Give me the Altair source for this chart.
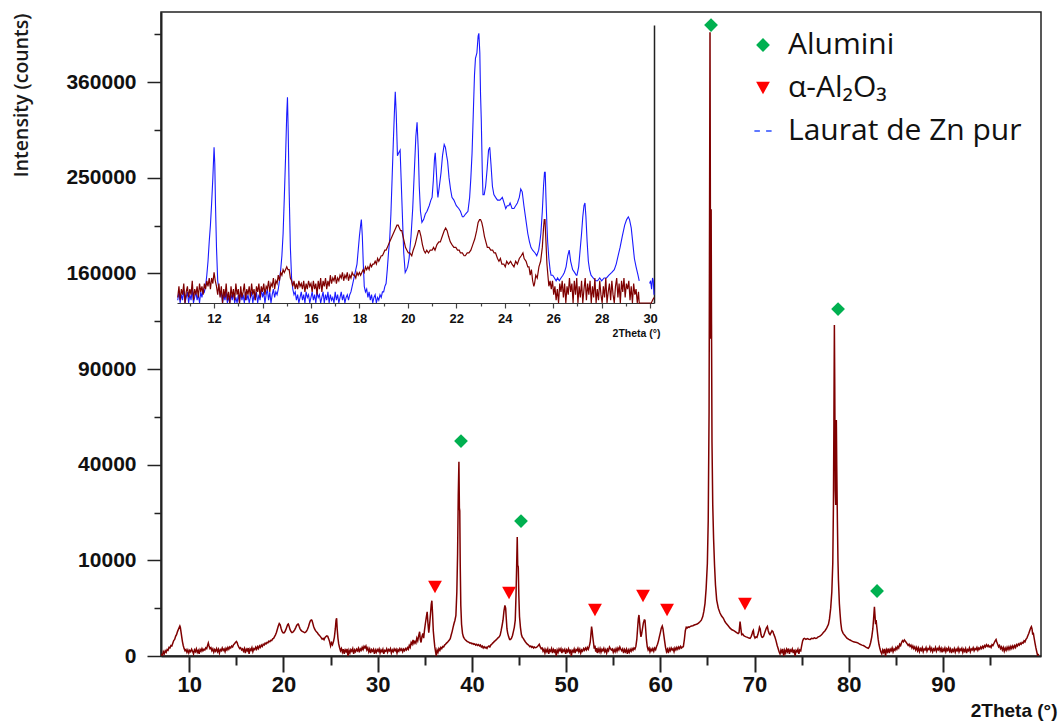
import altair as alt
import pandas as pd

# ---------------- main pattern (2Theta in degrees, intensity in counts) ----------------
main_2theta = [
7.05,7.15,7.25,7.35,7.45,7.55,7.65,7.75,7.85,7.95,8.05,8.15,8.25,8.35,8.45,8.55,8.65,8.75,8.85,8.95,9.0,9.05,9.12,9.2,9.28,9.36,9.45,9.55,9.65,9.75,
9.85,9.95,10.05,10.15,10.25,10.35,10.45,10.55,10.65,10.75,10.85,10.95,11.05,11.15,11.25,11.35,11.45,11.55,11.65,11.75,11.85,11.95,12.02,12.1,12.2,12.3,12.4,12.5,12.6,12.7,12.8,12.9,13.0,13.1,13.2,13.3,13.4,13.5,13.6,13.7,13.8,13.9,14.0,14.1,14.2,14.3,14.4,14.5,14.6,14.7,14.8,14.9,15.0,15.08,15.16,15.25,15.35,15.45,15.55,
15.65,15.75,15.85,15.95,16.05,16.15,16.25,16.35,16.45,16.55,16.65,16.75,16.85,16.95,17.05,17.15,17.25,17.35,17.45,17.55,
17.65,17.75,17.85,17.95,18.05,18.15,18.25,18.35,18.45,18.55,18.65,18.75,18.85,18.95,19.05,19.15,19.25,19.35,19.45,19.55,19.65,19.75,19.85,19.95,20.05,20.15,20.25,20.35,20.45,20.52,20.6,20.7,20.8,20.9,21.0,21.1,21.2,21.3,21.4,21.5,21.58,21.66,21.75,21.85,21.95,22.05,22.15,22.25,22.35,22.45,22.55,22.65,22.75,22.85,22.95,23.02,23.1,23.2,23.3,23.4,23.5,23.6,23.7,23.8,23.9,24.0,24.1,24.2,24.3,24.4,24.5,24.6,24.7,24.8,24.9,25.0,25.1,25.2,25.3,25.4,25.5,25.58,25.64,25.7,25.78,25.86,25.95,26.05,26.15,
26.25,26.35,26.45,26.55,26.65,26.75,26.85,26.95,27.05,27.15,27.25,27.35,27.45,27.55,27.65,27.75,27.85,27.95,28.05,28.15,28.25,28.35,28.45,28.55,28.65,28.75,28.85,28.95,29.05,29.15,29.25,29.35,29.45,29.55,29.65,29.75,29.85,29.95,30.05,30.15,30.25,30.35,30.45,30.55,30.65,30.75,30.85,30.95,31.05,31.15,31.25,31.35,31.45,31.55,31.65,31.75,31.85,31.95,32.05,32.15,32.25,32.35,32.45,32.55,32.65,32.75,32.85,32.95,33.05,33.15,33.25,
33.35,33.45,33.55,33.65,33.75,33.85,33.95,34.05,34.15,34.25,34.35,34.45,34.52,34.6,34.7,34.8,34.88,34.96,35.05,35.15,35.25,35.33,35.42,35.5,35.6,35.68,35.75,35.82,35.9,35.98,36.06,36.14,36.22,36.3,
36.4,36.5,36.6,36.7,36.8,36.9,37.0,37.1,37.2,37.3,37.4,37.5,37.6,37.7,37.8,37.9,38.0,38.1,38.2,38.3,38.4,38.48,38.55,38.62,38.67,38.71,38.76,38.82,38.9,39.0,39.1,39.2,39.3,39.4,39.5,39.6,39.7,
39.8,39.9,40.0,40.1,40.2,40.3,40.4,40.5,40.6,40.7,40.8,40.9,41.0,41.1,41.2,41.3,41.4,41.5,41.6,41.7,41.8,41.9,42.0,42.1,42.2,42.3,42.4,42.5,42.6,42.7,42.8,42.9,43.0,43.1,43.2,43.3,43.4,43.5,43.58,43.65,43.72,43.8,43.9,44.0,44.1,44.2,44.3,44.4,44.5,44.6,44.68,44.75,44.81,44.86,44.92,44.98,45.05,45.15,45.25,45.35,45.45,45.55,45.65,45.75,45.85,45.95,46.05,46.15,46.25,46.35,46.45,46.55,46.65,46.75,46.85,46.95,47.05,47.15,47.25,47.35,47.45,47.55,
47.65,47.75,47.85,47.95,48.05,48.15,48.25,48.35,48.45,48.55,48.65,48.75,48.85,48.95,49.05,49.15,49.25,49.35,49.45,49.55,49.65,49.75,49.85,49.95,50.05,50.15,50.25,50.35,50.45,50.55,50.65,50.75,50.85,50.95,51.05,51.15,51.25,51.35,51.45,51.55,51.65,51.75,51.85,51.95,52.05,52.15,52.25,52.35,
52.45,52.55,52.62,52.7,52.76,52.82,52.9,52.98,53.06,53.14,53.22,53.3,
53.4,53.5,53.6,53.7,53.8,53.9,54.0,54.1,54.2,54.3,54.4,54.5,54.6,54.7,54.8,54.9,55.0,55.1,55.2,55.3,55.4,55.5,55.6,55.7,55.8,55.9,56.0,56.1,56.2,56.3,56.4,56.5,56.6,56.7,56.8,56.9,57.0,57.1,57.2,57.3,
57.4,57.5,57.58,57.66,57.73,57.8,57.88,57.94,58.0,58.1,58.2,58.3,58.37,58.44,58.52,58.61,58.7,58.8,58.9,59.0,59.1,59.2,59.3,59.4,59.5,59.6,59.7,59.8,59.9,60.0,60.1,60.2,60.28,60.36,60.45,60.55,60.65,60.75,60.85,60.95,61.05,61.15,61.25,61.35,61.45,61.55,61.65,61.75,61.85,61.95,62.05,62.15,62.25,62.35,62.44,
62.55,62.65,62.75,62.85,62.95,63.05,63.15,63.3,63.45,63.6,63.75,63.9,64.05,64.2,64.35,64.5,64.62,64.74,64.86,64.99,65.08,65.17,65.22,65.27,65.3,65.33,65.36,65.39,65.43,65.48,65.56,65.65,65.75,65.85,65.98,66.15,66.33,66.5,66.69,66.85,67.0,67.2,67.4,67.6,67.8,67.95,68.1,68.25,68.35,68.46,68.55,68.63,68.75,68.85,68.99,69.1,69.25,69.4,69.52,69.62,69.72,69.8,69.87,69.95,70.05,70.15,70.25,70.35,70.45,70.52,70.6,70.68,70.76,70.85,70.95,71.05,71.15,71.25,71.36,71.45,71.55,71.64,71.75,71.85,71.95,72.05,72.15,72.28,72.4,72.5,72.6,
72.7,72.8,72.9,73.0,73.1,73.2,73.3,73.4,73.5,73.6,73.7,73.8,73.9,74.0,74.1,74.2,74.3,74.4,74.5,74.6,74.7,74.8,74.9,
75.0,75.1,75.2,75.3,75.45,75.6,75.75,75.9,76.05,76.2,76.35,76.5,76.6,76.75,76.9,77.0,77.13,77.3,77.48,77.65,77.84,77.95,78.08,78.2,78.3,78.37,78.42,78.47,78.51,78.56,78.61,78.65,78.68,78.72,78.79,78.85,78.9,79.0,79.07,79.15,79.25,79.4,79.6,79.8,80.0,80.13,80.3,80.5,80.7,80.84,81.0,81.2,81.4,81.55,81.7,81.85,82.0,82.08,82.2,82.32,82.44,82.55,82.63,82.72,82.78,82.84,82.9,82.96,83.04,83.12,83.2,83.3,83.4,
83.5,83.6,83.7,83.8,83.9,84.0,84.1,84.2,84.3,84.4,84.5,84.6,84.7,84.8,84.9,85.0,85.1,85.2,85.3,85.4,85.5,85.6,85.7,85.8,85.9,86.0,86.1,86.2,86.3,86.4,86.5,86.6,86.7,86.8,86.9,87.0,87.1,87.2,87.3,87.4,87.5,87.6,87.7,87.8,87.9,88.0,88.1,88.2,88.3,88.4,88.5,88.6,88.7,88.8,88.9,89.0,89.1,89.2,89.3,89.4,89.5,89.6,89.7,89.8,89.9,90.0,90.1,90.2,90.3,90.4,90.5,90.6,90.7,90.8,90.9,91.0,91.1,91.2,91.3,91.4,91.5,91.6,91.7,91.8,91.9,92.0,92.1,92.2,92.3,92.4,92.5,92.6,92.7,92.8,92.9,93.0,93.1,93.2,93.3,93.4,93.5,93.6,93.7,93.8,93.9,94.0,94.1,94.2,94.3,94.4,94.5,94.6,94.7,94.8,94.9,95.0,95.1,95.2,95.3,95.45,95.55,95.63,95.7,95.8,95.9,96.0,96.1,96.2,96.3,96.4,96.5,96.6,96.7,96.8,96.9,97.0,97.1,97.2,97.3,97.4,97.5,97.6,97.7,97.8,97.9,98.0,98.1,98.2,98.3,98.4,98.5,98.6,98.7,98.8,98.9,99.0,99.1,99.2,99.3,99.38,99.45,99.52,99.58,99.65,99.75,99.85,99.95,100.05,100.15,
]
main_counts = [
5,0,20,6,30,15,45,35,80,70,120,110,180,260,300,420,500,650,780,920,985,900,650,400,220,120,60,30,45,15,
40,10,35,20,50,25,5,40,20,55,15,35,5,45,25,60,30,50,40,75,60,130,185,110,60,75,30,55,15,45,25,60,20,50,10,45,30,70,35,55,20,65,40,80,50,90,70,110,90,140,165,200,230,195,130,90,60,75,40,
55,25,60,10,50,30,70,5,55,35,75,20,60,45,85,50,95,60,110,80,
130,100,150,130,180,160,200,190,240,220,270,260,320,340,410,490,600,780,980,1150,1060,830,660,590,580,640,760,920,1080,1120,960,760,650,600,620,680,760,880,1020,1100,1110,960,820,730,680,650,620,600,620,680,780,930,1150,1350,1420,1400,1200,950,800,700,640,590,520,470,420,370,310,340,290,370,410,440,420,320,220,110,190,140,220,380,800,1400,1550,800,350,160,80,30,60,
15,50,5,40,20,55,0,35,10,45,25,60,5,40,20,50,30,65,15,55,35,80,45,100,70,110,40,70,20,55,10,45,25,50,5,40,15,45,25,55,10,40,20,50,5,35,25,55,15,45,30,60,10,40,20,55,30,50,10,45,25,60,35,55,20,50,30,60,40,75,50,
120,80,200,150,280,170,230,180,350,250,450,640,300,200,420,560,350,700,1100,1600,2140,1200,600,1000,1900,2900,3340,2000,700,300,90,20,0,40,
15,60,35,80,60,100,90,130,150,180,200,240,280,330,480,650,900,1150,1400,1800,4500,11500,28000,41200,24000,23000,9000,2800,1100,560,400,330,290,260,230,220,200,
180,190,160,175,150,160,130,150,120,140,110,130,90,110,70,95,70,85,64,95,110,90,130,150,180,200,240,260,300,330,370,400,480,700,1000,1400,2200,2800,2500,1500,800,560,400,300,300,350,450,650,900,1400,4000,9000,15500,9000,8700,4000,1700,900,500,380,340,280,230,190,160,140,120,95,110,80,95,70,90,75,80,100,120,150,90,60,70,25,
50,10,45,20,55,5,40,25,60,10,45,20,50,0,40,15,55,30,60,10,45,25,50,5,40,20,55,15,45,0,35,20,55,10,45,30,65,20,50,10,40,25,60,35,70,40,80,50,
100,200,450,940,700,420,200,60,120,20,70,10,
55,20,60,15,50,30,65,20,45,10,50,30,90,60,40,55,15,45,20,60,25,70,40,90,50,30,55,10,45,20,50,5,40,15,50,25,60,35,70,50,
100,300,800,1500,1840,1200,600,400,500,800,1200,1416,1400,800,300,94,40,70,20,55,30,60,25,70,45,100,150,250,407,600,850,983,800,500,250,80,20,50,10,60,30,70,40,60,20,70,40,80,50,90,60,100,70,90,94,
300,700,900,860,920,900,940,980,1000,1050,1080,1120,1180,1285,1400,1700,2200,3030,5000,9390,20000,64500,200000,425000,250000,110000,160000,218000,120000,50000,25000,15000,9000,5500,3420,2500,2020,1750,1553,1300,1150,1000,850,750,700,650,600,550,600,1300,800,500,520,450,420,400,380,350,340,400,500,650,720,450,350,400,380,500,700,900,800,500,400,380,420,550,700,850,950,700,550,500,600,700,650,500,400,250,120,60,20,
5,40,15,55,0,35,10,50,20,60,5,40,25,55,10,45,0,35,20,50,5,40,30,
120,250,320,340,300,330,310,300,340,330,360,340,350,400,420,450,500,600,700,850,1100,1500,2500,4500,9390,25000,60000,119700,80000,30000,24900,45000,60800,40000,20000,10000,6310,3000,2000,1200,738,560,450,350,300,280,250,220,210,200,180,150,130,120,100,80,70,64,100,200,400,800,1500,2650,1800,1100,1416,1000,600,300,150,60,20,
5,40,15,55,0,45,20,60,10,50,30,70,20,55,35,80,50,100,70,150,120,200,260,220,280,240,200,160,120,150,100,130,70,110,60,90,40,80,30,70,20,60,35,75,20,55,40,80,25,60,45,90,30,65,20,55,35,80,25,60,40,85,30,65,15,55,30,70,20,60,35,75,25,55,10,45,25,60,15,50,30,70,20,55,35,65,15,50,25,60,10,45,30,70,20,55,40,75,30,60,45,80,35,70,50,90,60,100,70,120,90,140,100,130,90,110,80,140,120,200,260,300,220,150,90,120,60,90,40,80,25,70,35,85,45,90,50,100,60,110,70,120,80,140,110,160,130,180,150,200,180,250,220,300,350,450,550,700,850,940,800,500,600,400,200,80,20,0,5,
]

# ---------------- inset (arbitrary intensity units) ----------------
blue_2theta = [
10.5,10.55,10.6,10.65,10.7,10.75,10.8,10.85,10.9,10.95,11.0,11.05,11.1,11.15,11.2,11.25,11.3,11.35,11.4,11.45,11.5,11.55,11.6,11.65,11.7,11.75,11.8,11.85,11.9,11.95,12.0,12.03,12.06,12.1,12.15,12.2,12.25,12.3,12.35,12.4,12.45,12.5,12.55,12.6,12.65,12.7,12.75,12.8,12.85,12.9,12.95,13.0,13.05,13.1,13.15,13.2,13.25,13.3,13.35,13.4,13.45,13.5,13.55,13.6,13.65,13.7,13.75,13.8,13.85,13.9,13.95,14.0,14.05,14.1,14.15,14.2,14.25,14.3,14.35,14.4,14.45,14.5,14.55,14.6,14.65,14.7,14.75,14.8,14.85,14.9,14.95,15.0,15.03,15.06,15.1,15.15,15.2,15.25,15.3,15.35,15.4,15.45,15.5,15.55,15.6,15.65,15.7,15.75,15.8,15.85,15.9,15.95,16.0,16.05,16.1,16.15,16.2,16.25,16.3,16.35,16.4,16.45,16.5,16.55,16.6,16.65,16.7,16.75,16.8,16.85,16.9,16.95,17.0,17.05,17.1,17.15,17.2,17.25,17.3,17.35,17.4,17.45,17.5,17.55,17.6,17.65,17.7,17.75,17.8,17.85,17.9,17.95,18.0,18.05,18.08,18.12,18.16,18.2,18.25,18.3,18.35,18.4,18.45,18.5,18.55,18.6,18.65,18.7,18.75,18.8,18.85,18.9,18.95,19.0,19.05,19.1,19.15,19.2,19.25,19.3,19.35,19.4,19.45,19.48,19.52,19.57,19.62,19.68,19.72,19.78,19.83,19.89,19.95,19.99,20.05,20.13,20.2,20.27,20.33,20.38,20.43,20.47,20.52,20.58,20.65,20.72,20.79,20.88,20.95,21.0,21.05,21.1,21.13,21.17,21.22,21.24,21.3,21.37,21.43,21.5,21.55,21.6,21.64,21.7,21.76,21.82,21.9,22.0,22.1,22.17,22.25,22.3,22.38,22.48,22.55,22.6,22.65,22.7,22.75,22.79,22.85,22.9,22.93,22.97,23.0,23.03,23.07,23.1,23.15,23.21,23.27,23.33,23.38,23.43,23.49,23.55,23.62,23.7,23.8,23.9,23.97,24.04,24.1,24.17,24.22,24.3,24.38,24.45,24.52,24.6,24.66,24.72,24.79,24.87,24.95,25.02,25.08,25.15,25.25,25.32,25.4,25.45,25.49,25.55,25.6,25.64,25.67,25.7,25.74,25.77,25.82,25.87,25.91,25.98,26.05,26.12,26.18,26.25,26.32,26.4,26.46,26.53,26.6,26.66,26.72,26.8,26.88,26.95,26.98,27.05,27.1,27.17,27.22,27.27,27.31,27.35,27.4,27.45,27.5,27.56,27.65,27.75,27.83,27.92,28.0,28.1,28.2,28.3,28.42,28.52,28.6,28.68,28.76,28.85,28.95,29.03,29.1,29.15,29.22,29.28,29.35,29.42,29.5,29.55,
29.98,30.02,30.06,30.1,30.13,30.16,
]
blue_int = [
1,4,0,3,1,5,0,2,4,0,3,1,5,0,2,4,1,3,0,4,2,5,4,6,10,15,22,28,36,45,56,50,35,20,8,5,3,4,0,3,1,4,0,2,0,3,1,4,0,2,0,3,0,4,1,3,0,4,1,3,0,2,4,0,3,1,4,0,3,1,5,2,4,0,3,5,1,4,0,3,5,2,4,3,5,8,12,17,25,38,52,68,74,62,40,20,9,5,3,4,1,3,0,2,4,1,3,0,4,2,3,0,2,4,1,3,0,4,2,3,0,2,4,0,3,1,4,0,3,1,2,0,4,1,3,0,2,4,1,3,0,2,3,1,3,4,6,8,10,12,14,19,24,28,30,24,14,6,4,5,2,4,1,3,0,2,3,0,2,1,3,2,4,4,6,7,12,18,23,32,45,58,70,76,68,53,54,55,45,30,18,11,12,13,16,24,34,48,60,65,55,42,33,29,30,32,33,35,37,38,44,52,54,48,40,38,42,47,53,57,56,53,51,45,41,38,37,35,34,33,31,31,32,33,38,45,54,68,82,88,90,96,97,90,75,66,48,39,39,42,48,55,56,50,42,39,38,37,37,38,36,34,35,35,36,34,34,35,36,38,41,40,35,30,25,22,20,19,18,17,19,22,25,33,42,47,47,38,28,22,16,12,10,10,9,8,9,8,9,10,11,13,17,19,15,12,11,10,10,13,18,25,31,35,36,31,22,15,12,10,9,8,8,9,8,9,9,10,11,12,14,17,20,24,28,30,31,30,27,22,16,13,10,8,
7,8,5,9,8,3,
]

red_2theta = [
10.5,10.55,10.6,10.65,10.7,10.75,10.8,10.85,10.9,10.95,11.0,11.05,11.1,11.15,11.2,11.25,11.3,11.35,11.4,11.45,11.5,11.55,11.6,11.65,11.7,11.75,11.8,11.85,11.9,11.95,12.0,12.05,12.1,12.15,12.2,12.25,12.3,12.35,12.4,12.45,12.5,12.55,12.6,12.65,12.7,12.75,12.8,12.85,12.9,12.95,13.0,13.05,13.1,13.15,13.2,13.25,13.3,13.35,13.4,13.45,13.5,13.55,13.6,13.65,13.7,13.75,13.8,13.85,13.9,13.95,14.0,14.05,14.1,14.15,14.2,14.25,14.3,14.35,14.4,14.45,14.5,14.55,14.6,14.65,14.7,14.75,14.8,14.85,14.9,14.95,15.0,15.05,15.1,15.15,15.2,15.25,15.3,15.35,15.4,15.45,15.5,15.55,15.6,15.65,15.7,15.75,15.8,15.85,15.9,15.95,16.0,16.05,16.1,16.15,16.2,16.25,16.3,16.35,16.4,16.45,16.5,16.55,16.6,16.65,16.7,16.75,16.8,16.85,16.9,16.95,17.0,17.05,17.1,17.15,17.2,17.25,17.3,17.35,17.4,17.45,17.5,17.55,17.6,17.65,17.7,17.75,17.8,17.85,17.9,17.95,18.0,18.05,18.1,18.15,18.2,18.25,18.3,18.35,18.4,18.45,18.5,18.55,18.6,18.65,18.7,18.75,18.8,18.85,18.9,18.95,19.0,19.05,19.1,19.15,19.2,19.25,19.3,19.35,19.4,19.45,19.5,19.55,19.6,19.65,19.7,19.75,19.8,19.85,19.9,19.96,20.02,20.08,20.16,20.22,20.3,20.38,20.44,20.48,20.54,20.6,20.66,20.72,20.78,20.85,20.92,21.0,21.06,21.12,21.2,21.28,21.34,21.42,21.5,21.56,21.62,21.68,21.75,21.82,21.9,21.98,22.05,22.12,22.17,22.25,22.32,22.37,22.45,22.52,22.6,22.68,22.76,22.84,22.9,22.96,23.0,23.05,23.1,23.16,23.22,23.28,23.35,23.42,23.5,23.56,23.62,23.7,23.76,23.82,23.88,23.96,24.02,24.08,24.15,24.24,24.3,24.38,24.45,24.52,24.6,24.68,24.75,24.8,24.88,24.95,25.0,25.05,25.1,25.15,25.2,25.23,25.28,25.34,25.41,25.48,25.55,25.6,25.63,25.66,25.7,25.74,25.78,25.82,25.87,25.92,25.97,26.02,26.07,26.12,26.17,26.22,26.27,26.32,26.37,26.42,26.47,26.52,26.57,26.62,26.67,26.72,26.77,26.82,26.87,26.92,26.97,27.02,27.07,27.12,27.17,27.22,27.27,27.32,27.37,27.42,27.47,27.52,27.57,27.62,27.67,27.72,27.77,27.82,27.87,27.92,27.97,28.02,28.07,28.12,28.17,28.22,28.27,28.32,28.37,28.42,28.47,28.52,28.57,28.62,28.67,28.72,28.77,28.82,28.87,28.92,28.97,29.02,29.07,29.12,29.17,29.22,29.27,29.32,29.37,29.42,29.47,29.52,29.55,29.8,30.05,30.1,30.16,
]
red_int = [
2,6,1,5,3,7,0,4,6,2,5,3,8,1,5,3,6,2,7,4,6,3,7,5,8,6,9,5,9,7,11,8,6,3,7,2,6,0,5,2,7,1,4,0,6,2,5,1,7,3,5,0,6,2,4,7,1,5,3,6,2,7,3,5,1,6,4,7,2,6,4,7,3,6,5,8,4,7,6,9,5,8,7,10,8,11,10,12,11,12,13,12,12,9,8,6,8,5,7,5,8,6,7,5,8,4,7,5,8,6,7,4,8,5,7,3,8,5,9,4,8,6,9,5,8,6,10,7,9,8,10,7,9,8,10,9,11,8,10,9,11,8,10,9,11,10,10,9,11,10,11,10,11,12,11,13,12,13,12,14,13,14,14,15,14,16,15,16,17,17,18,19,19,20,21,22,23,24,25,26,27,28,28,27,26,26,24,22,20,19,18,18,17,19,21,24,26,26,24,21,19,18,19,18,19,19,20,19,21,22,22,24,26,27,26,24,22,21,20,20,19,19,18,18,17,17,18,18,19,21,23,26,29,30,30,29,27,24,22,20,20,19,19,18,18,16,15,16,14,14,13,15,14,15,14,13,15,14,16,17,18,16,15,13,13,10,12,8,6,7,10,9,13,15,20,27,30,30,22,14,10,6,8,5,8,3,6,1,5,0,7,4,8,2,7,0,6,3,9,4,7,0,8,3,9,0,6,2,8,0,5,9,1,7,3,8,0,6,2,9,0,5,1,8,3,0,6,2,9,0,4,7,1,8,3,0,6,9,2,7,0,8,4,9,2,7,5,8,1,6,0,7,3,5,0,4,0,0,0,1,2,
]

# ---------------- phase markers and legend ----------------
marker_series = ["Alumini"] * 5 + ["α-Al₂O₃"] * 6
marker_2theta = [38.84, 45.21, 65.38, 78.86, 83.0, 36.08, 43.94, 53.06, 58.16, 60.71, 68.98]
marker_counts = [50500, 19900, 435000, 131500, 4615, 5200, 4340, 2310, 3935, 2310, 2955]
legend_names = ["Alumini", "α-Al₂O₃", "Laurat de Zn pur"]
legend_colors = ["#00b050", "#ff0000", "#2b4cff"]
legend_shapes = [
    "diamond",
    "M-1,-0.9L1,-0.9L0,0.9Z",
    "M-1.25,-0.1L-0.45,-0.1L-0.45,0.1L-1.25,0.1Z M0.45,-0.1L1.25,-0.1L1.25,0.1L0.45,0.1Z",
]

y_ticks = [0, 2500, 10000, 22500, 40000, 62500, 90000, 122500, 160000, 202500,
           250000, 302500, 360000, 422500]
x_ticks = [10, 15, 20, 25, 30, 35, 40, 45, 50, 55, 60, 65, 70, 75, 80, 85, 90, 95]
inset_ticks = list(range(11, 31))

df_main = pd.DataFrame({"theta": main_2theta, "counts": main_counts})
df_blue = pd.DataFrame({"theta": blue_2theta, "a": blue_int})
df_blue["seg"] = (df_blue["theta"] > 29.8).astype(int)
df_red = pd.DataFrame({"theta": red_2theta, "a": red_int})
df_mk = pd.DataFrame({"theta": marker_2theta, "counts": marker_counts, "series": marker_series})

DARK = "#222222"

main_x = alt.X("theta:Q",
               scale=alt.Scale(domain=[7, 100.4], nice=False, zero=False),
               axis=alt.Axis(values=x_ticks, grid=False,
                             labelExpr="datum.value % 10 == 0 ? datum.label : ''",
                             tickSize={"condition": {"test": "datum.value % 10 == 0", "value": 16}, "value": 9},
                             tickWidth=2, tickColor=DARK, domainColor=DARK, domainWidth=2,
                             labelFont="Liberation Sans", labelFontWeight="bold", labelFontSize=22,
                             labelColor="#111111", labelPadding=2, labelFlush=False, labelOverlap=False,
                             title="2Theta (°)", titleFont="Liberation Sans", titleFontWeight="bold",
                             titleFontSize=19, titleColor="#111111", titleX=896, titleY=54,
                             titleAlign="right", titleBaseline="middle", titleAngle=0))
main_y = alt.Y("counts:Q",
               scale=alt.Scale(type="sqrt", domain=[0, 453200], nice=False),
               axis=alt.Axis(values=y_ticks, grid=False, format="d",
                             labelExpr="sqrt(datum.value) % 100 == 0 ? datum.label : ''",
                             tickSize={"condition": {"test": "sqrt(datum.value) % 100 == 0", "value": 14}, "value": 7},
                             tickWidth=1.5, tickColor=DARK, domainColor=DARK, domainWidth=2,
                             labelFont="Liberation Sans", labelFontWeight="bold", labelFontSize=21,
                             labelColor="#111111", labelPadding=11, labelOverlap=False,
                             title="Intensity (counts)", titleFont="Open Sans", titleFontWeight=600,
                             titleFontSize=19.5, titleColor="#1a1a1a", titleAngle=-90, titleX=-139.5, titleY=1,
                             titleAlign="right", titleBaseline="middle"))

main = alt.Chart(df_main).mark_line(color="#7f0000", strokeWidth=1.5, clip=True).encode(
    x=main_x, y=main_y)

leg = alt.Legend(title=None, orient="none", legendX=587, legendY=18, padding=0,
                 labelFont="Open Sans", labelFontSize=30, labelColor="#111111",
                 symbolSize=190, symbolStrokeWidth=0, labelOffset=10, rowPadding=13,
                 labelLimit=500)

markers = alt.Chart(df_mk).mark_point(filled=True, opacity=1, size=190, strokeWidth=0).encode(
    x=main_x,
    y=main_y,
    color=alt.Color("series:N", scale=alt.Scale(domain=legend_names, range=legend_colors), legend=leg),
    shape=alt.Shape("series:N", scale=alt.Scale(domain=legend_names, range=legend_shapes), legend=leg),
)

inset_x = alt.X("theta:Q",
                scale=alt.Scale(domain=[10.47, 30.16], range=[16, 493], nice=False, zero=False),
                axis=alt.Axis(orient="bottom", offset=-353, values=inset_ticks, grid=False,
                              labelExpr="datum.value % 2 == 0 ? datum.label : ''",
                              tickSize={"condition": {"test": "datum.value % 2 == 0", "value": 5}, "value": 3},
                              tickWidth=1.2, tickColor="#444444", domainColor="#333333", domainWidth=1.2,
                              labelFont="Liberation Sans", labelFontWeight="bold", labelFontSize=13,
                              labelColor="#111111", labelPadding=4, labelFlush=False, labelOverlap=False,
                              title="2Theta (°)", titleFont="Liberation Sans", titleFontWeight="bold",
                              titleFontSize=10.5, titleColor="#111111", titleX=499, titleY=30,
                              titleAlign="right", titleBaseline="middle", titleAngle=0))
inset_y = alt.Y("a:Q",
                scale=alt.Scale(domain=[0, 100], range=[291, 13], nice=False),
                axis=alt.Axis(orient="right", offset=-387, ticks=False, labels=False, title=None,
                              grid=False, domainColor="#222222", domainWidth=1.5))

blue = alt.Chart(df_blue).mark_line(color="#1a1aff", strokeWidth=1.1).encode(
    x=inset_x, y=inset_y, detail="seg:N")
red = alt.Chart(df_red).mark_line(color="#7f0000", strokeWidth=1.2).encode(
    x=inset_x, y=inset_y)

chart = alt.layer(
    alt.layer(main, markers),
    alt.layer(blue, red),
).resolve_scale(x="independent", y="independent").properties(
    width=880, height=644,
    autosize=alt.AutoSizeParams(type="none"),
    padding={"left": 161, "top": 12, "right": 18, "bottom": 66},
    background="white",
).configure_view(stroke=DARK, strokeWidth=1.5)

chart.save("out.html", embed_options={"renderer": "svg", "actions": False})
